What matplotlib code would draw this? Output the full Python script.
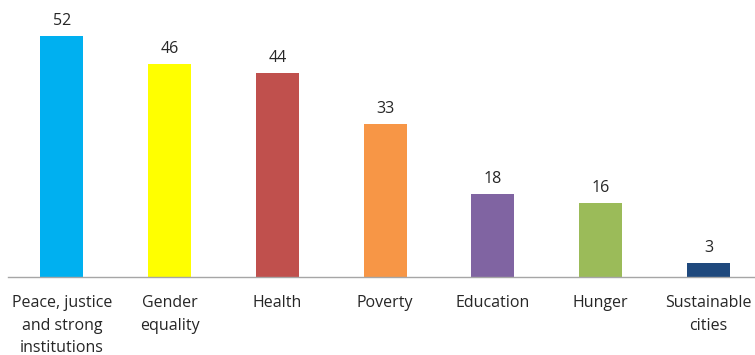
import matplotlib
matplotlib.use("Agg")
import matplotlib.pyplot as plt

categories = ["Peace, justice\nand strong\ninstitutions", "Gender\nequality", "Health",
              "Poverty", "Education", "Hunger", "Sustainable\ncities"]
values = [52, 46, 44, 33, 18, 16, 3]
colors = ["#00B0F0", "#FFFF00", "#C0504D", "#F79646", "#8064A2", "#9BBB59", "#1F497D"]

plt.rcParams["font.family"] = ["Open Sans", "DejaVu Sans"]

fig = plt.figure(figsize=(7.55, 3.55), dpi=100)
ax = fig.add_axes([8/755, 78/355, 747/755, 277/355])

x = list(range(len(values)))
ax.bar(x, values, width=0.4, color=colors)

for xi, v in zip(x, values):
    ax.annotate(str(v), (xi, v), xytext=(0, 5), textcoords="offset points",
                ha="center", va="bottom", fontsize=11.5, color="#262626")

ax.set_xlim(-0.5, -0.5 + 747/107.75)
ax.set_ylim(0, 59.8)
ax.set_xticks(x)
ax.set_xticklabels(categories, fontsize=11.5, color="#262626", linespacing=1.55)
ax.tick_params(axis="x", length=0, pad=13)
ax.set_yticks([])
for s in ["top", "right", "left"]:
    ax.spines[s].set_visible(False)
ax.spines["bottom"].set_color("#A6A6A6")
ax.spines["bottom"].set_linewidth(1)

fig.savefig("out.png", dpi=100)
